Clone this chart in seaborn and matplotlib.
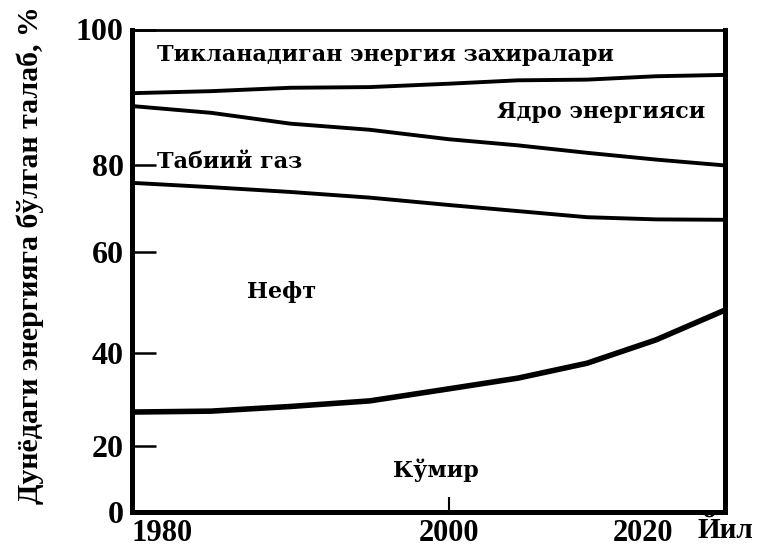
import numpy as np
import pandas as pd
import matplotlib
matplotlib.use("Agg")
import matplotlib.pyplot as plt
from matplotlib.transforms import ScaledTranslation
import seaborn as sns

# ---------------- data (shares of world energy demand, %) ----------------
years = [1980, 1985, 1990, 1995, 2000, 2005, 2010, 2015, 2020]
coal = [27.3, 27.5, 28.5, 29.7, 32.3, 34.6, 37.8, 42.6, 48.5]
oil = [48.6, 47.4, 45.3, 42.8, 38.5, 34.8, 30.2, 24.9, 18.9]
gas = [12.8, 12.8, 12.3, 12.7, 13.0, 13.5, 13.8, 13.3, 12.5]
nuclear = [1.9, 3.2, 5.3, 6.3, 8.2, 9.6, 10.8, 12.3, 13.4]
renewable = [9.4, 9.1, 8.6, 8.5, 8.0, 7.5, 7.4, 6.9, 6.7]

source_names = ["Кўмир", "Нефт", "Табиий газ", "Ядро энергияси",
                "Тикланадиган энергия захиралари"]
x_ticks = [1980, 2000, 2020]
y_ticks = [0, 20, 40, 60, 80, 100]
x_label = "Йил"
y_label = "Дунёдаги энергияга бўлган талаб, %"

# ---------------- stacked boundaries ----------------
shares = np.array([coal, oil, gas, nuclear, renewable])
bounds = np.cumsum(shares, axis=0)[:4]
rows = []
for name, b in zip(source_names[:4], bounds):
    for yr, v in zip(years, b):
        rows.append({"year": yr, "value": v, "line": name})
df = pd.DataFrame(rows)

# ---------------- style ----------------
sns.set_style("white")
plt.rcParams["font.family"] = ["Liberation Serif", "DejaVu Serif"]
plt.rcParams["font.weight"] = "bold"
plt.rcParams["text.color"] = "black"
plt.rcParams["axes.labelcolor"] = "black"

fig = plt.figure(figsize=(7.68, 5.47), dpi=100)
ax = fig.add_axes([132 / 768, 35 / 547, 593 / 768, 482.5 / 547])

# hand-drawn axis spacing of the original figure (tick spacing is uneven)
def piecewise_scale(vals, pos):
    vals = np.asarray(vals, float)
    pos = np.asarray(pos, float)

    def conv(v, a, b):
        v = np.asarray(v, float)
        out = np.interp(v, a, b)
        lo_s = (b[1] - b[0]) / (a[1] - a[0])
        hi_s = (b[-1] - b[-2]) / (a[-1] - a[-2])
        out = np.where(v < a[0], b[0] + (v - a[0]) * lo_s, out)
        out = np.where(v > a[-1], b[-1] + (v - a[-1]) * hi_s, out)
        return out

    return (lambda v: conv(v, vals, pos)), (lambda p: conv(p, pos, vals))

ax.set_xscale("function", functions=piecewise_scale(x_ticks, [0, 317, 593]))
ax.set_yscale("function", functions=piecewise_scale(y_ticks, [0, 66, 159, 260, 347, 482.5]))

widths = {source_names[0]: 4.0, source_names[1]: 2.8,
          source_names[2]: 2.8, source_names[3]: 2.8}
sns.lineplot(data=df, x="year", y="value", hue="line", size="line",
             sizes=widths, palette=["black"] * 4, legend=False, ax=ax,
             estimator=None, sort=True)
for ln in ax.lines:
    ln.set_solid_capstyle("butt")

ax.set_xlim(1980, 2020)
ax.set_ylim(0, 100)

# spines
for s in ["left", "bottom", "right"]:
    ax.spines[s].set_linewidth(3.6)
    ax.spines[s].set_color("black")
ax.spines["top"].set_linewidth(2.0)
ax.spines["top"].set_color("black")

ax.set_yticks(y_ticks)
ax.set_yticklabels([str(t) for t in y_ticks])
ax.tick_params(axis="y", left=True, direction="in", length=17, width=1.8, pad=6,
               labelsize=23, colors="black")
ax.set_xticks(x_ticks)
ax.set_xticklabels([str(t) for t in x_ticks])
ax.tick_params(axis="x", bottom=True, direction="in", length=11, width=1.5, pad=5,
               labelsize=22, colors="black")
xt = ax.xaxis.get_major_ticks()
xt[0].tick1line.set_visible(False)
xt[2].tick1line.set_visible(False)

for lbl in ax.get_yticklabels() + ax.get_xticklabels():
    lbl.set_fontweight("bold")
    lbl.set_family(["Liberation Serif", "DejaVu Serif"])

ax.set_ylabel(y_label, fontsize=21.5, fontweight="bold", color="black",
              family=["Liberation Serif", "DejaVu Serif"])
ax.yaxis.set_label_coords(-0.172, 0.532)
ax.yaxis.label.set_va("center")

ax.set_xlabel("")
ax.text(1.0 - 27 / 593, -0.010, x_label, transform=ax.transAxes,
        ha="left", va="top", fontsize=21, fontweight="bold", color="black",
        family=["Liberation Serif", "DejaVu Serif"])

# region labels
lab_font = dict(family=["DejaVu Serif"], fontweight="bold", fontsize=16, color="black")
ax.text(0.042, 0.947, source_names[4], transform=ax.transAxes, ha="left", va="center", **lab_font)
ax.text(0.966, 0.829, source_names[3], transform=ax.transAxes, ha="right", va="center", **lab_font)
ax.text(0.042, 0.725, source_names[2], transform=ax.transAxes, ha="left", va="center", **lab_font)
ax.text(0.194, 0.456, source_names[1], transform=ax.transAxes, ha="left", va="center", **lab_font)
ax.text(0.440, 0.087, source_names[0], transform=ax.transAxes, ha="left", va="center", **lab_font)

# tick label placement as in the original
xl = ax.get_xticklabels()
xl[0].set_ha("left")
xl[2].set_ha("right")
xl[2].set_transform(xl[2].get_transform() + ScaledTranslation(-0.52, 0, fig.dpi_scale_trans))

fig.savefig("out.png", dpi=100, facecolor="white")
